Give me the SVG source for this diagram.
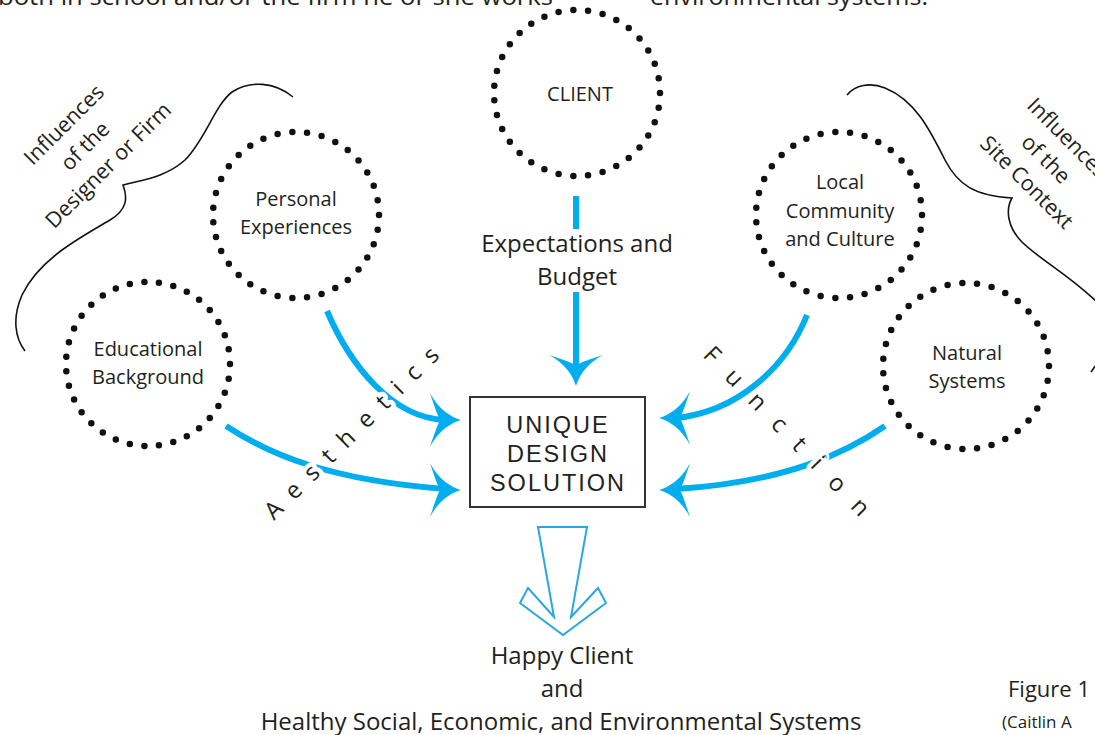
<svg xmlns="http://www.w3.org/2000/svg" width="1095" height="735" viewBox="0 0 1095 735">
  <style>
    .txt { font-family: "Open Sans", "Noto Sans", sans-serif; fill: #231f20; }
    .lbl { font-size: 20px; text-anchor: middle; }
    .big { font-size: 24px; text-anchor: middle; }
    .side { font-size: 21.5px; text-anchor: middle; }
    .dots { fill: none; stroke: #111; stroke-width: 6.5; stroke-linecap: round; stroke-dasharray: 0 10; }
    .flow { fill: none; stroke: #00aeef; stroke-width: 6; }
    .head { fill: #00aeef; }
    .brace { fill: none; stroke: #111; stroke-width: 1.6; }
    .spaced { font-size: 24px; stroke: #fff; stroke-width: 9; stroke-linejoin: round; paint-order: stroke; }
    .box { fill: #fff; stroke: #333; stroke-width: 2; }
    .boxtxt { font-family: "Liberation Sans", Arial, sans-serif; font-size: 23.5px; letter-spacing: 2px; text-anchor: middle; fill: #231f20; }
  </style>
  <defs>
    <!-- swept arrowhead, tip at origin, pointing +x -->
    <path id="ah" class="head" d="M0,0 C-10,-3 -22,-10 -31,-27 C-26,-12 -24,-6 -21,0 C-24,6 -26,12 -31,27 C-22,10 -10,3 0,0 Z"/>
  </defs>

  <rect width="1095" height="735" fill="#fff"/>

  <!-- running text clipped at the top edge -->
  <text class="txt" x="-2" y="5" font-size="24" textLength="555" lengthAdjust="spacingAndGlyphs">both in school and/or the firm he or she works</text>
  <text class="txt" x="650" y="5" font-size="24" textLength="278" lengthAdjust="spacingAndGlyphs">environmental systems.</text>

  <!-- side braces and their captions -->
  <g id="designer-influences">
    <path class="brace" d="M293,97 C275,82 250,80 232,92 C215,105 205,140 185,160 C165,178 140,180 123,185 C128,198 127,210 110,220 C80,238 40,258 22,295 C12,318 15,338 25,351"/>
    <text class="txt side" transform="translate(71,128) rotate(-45)">
      <tspan x="0" y="0">Influences</tspan>
      <tspan x="0" y="30">of the</tspan>
      <tspan x="0" y="60">Designer or Firm</tspan>
    </text>
  </g>
  <g id="site-influences">
    <path class="brace" d="M847,95 C855,85 870,82 885,88 C915,100 930,130 945,160 C958,185 975,196 1012,198 C1005,210 1008,228 1022,242 C1040,260 1070,275 1100,305"/>
    <path class="brace" d="M1091,372 L1096,365"/>
    <text class="txt side" transform="translate(1064,145) rotate(45)">
      <tspan x="0" y="0">Influences</tspan>
      <tspan x="0" y="30">of the</tspan>
      <tspan x="0" y="60">Site Context</tspan>
    </text>
  </g>

  <!-- connectors -->
  <g id="connectors">
    <line class="flow" x1="576" y1="196" x2="576" y2="229"/>
    <line class="flow" x1="576" y1="292" x2="576" y2="370"/>
    <use href="#ah" transform="translate(576,386) rotate(90)"/>

    <path class="flow" d="M327,311 C350,365 392,418 445,420"/>
    <use href="#ah" transform="translate(461,420)"/>
    <path class="flow" d="M226,426 C270,455 330,480 445,489"/>
    <use href="#ah" transform="translate(461,490)"/>

    <path class="flow" d="M807,315 C785,370 735,412 676,418"/>
    <use href="#ah" transform="translate(659,418) rotate(180)"/>
    <path class="flow" d="M885,426 C850,450 790,482 676,489"/>
    <use href="#ah" transform="translate(659,490) rotate(180)"/>

    <!-- hollow output arrow -->
    <polygon points="538,527 587,527 571,617 598,588 606,603 563,635 520,603 528,588 554,617" fill="none" stroke="#29a8e0" stroke-width="2" stroke-linejoin="miter"/>

    <text class="txt spaced" transform="translate(274,521) rotate(-44.6)" x="0" y="0" textLength="234" lengthAdjust="spacing">Aesthetics</text>
    <text class="txt spaced" transform="translate(702,356) rotate(45.7)" x="0" y="0" textLength="226" lengthAdjust="spacing">Function</text>
    <text class="txt big" x="577" y="252">Expectations and</text>
    <text class="txt big" x="577" y="285">Budget</text>
  </g>

  <!-- nodes -->
  <g id="client">
    <circle class="dots" cx="577" cy="93" r="83" pathLength="350"/>
    <text class="txt lbl" x="580" y="101">CLIENT</text>
  </g>
  <g id="personal-experiences">
    <circle class="dots" cx="296" cy="215" r="83" pathLength="350"/>
    <text class="txt lbl" x="296" y="206">Personal</text>
    <text class="txt lbl" x="296" y="234">Experiences</text>
  </g>
  <g id="educational-background">
    <circle class="dots" cx="148" cy="364" r="82" pathLength="350"/>
    <text class="txt lbl" x="148" y="356">Educational</text>
    <text class="txt lbl" x="148" y="384">Background</text>
  </g>
  <g id="local-community">
    <circle class="dots" cx="839" cy="215" r="83" pathLength="350"/>
    <text class="txt lbl" x="840" y="189">Local</text>
    <text class="txt lbl" x="840" y="218">Community</text>
    <text class="txt lbl" x="840" y="246">and Culture</text>
  </g>
  <g id="natural-systems">
    <circle class="dots" cx="966" cy="366" r="83" pathLength="350"/>
    <text class="txt lbl" x="967" y="360">Natural</text>
    <text class="txt lbl" x="967" y="388">Systems</text>
  </g>
  <g id="design-solution">
    <rect class="box" x="470" y="397" width="175" height="110"/>
    <text class="boxtxt" x="558" y="433">UNIQUE</text>
    <text class="boxtxt" x="558" y="462">DESIGN</text>
    <text class="boxtxt" x="558" y="491">SOLUTION</text>
  </g>
  <g id="outcome">
    <text class="txt big" x="562" y="664">Happy Client</text>
    <text class="txt big" x="562" y="697">and</text>
    <text class="txt big" x="561" y="730">Healthy Social, Economic, and Environmental Systems</text>
  </g>

  <!-- caption -->
  <text class="txt" x="1008" y="697" font-size="22">Figure 1</text>
  <text class="txt" x="1002" y="728" font-size="17">(Caitlin A</text>
</svg>
